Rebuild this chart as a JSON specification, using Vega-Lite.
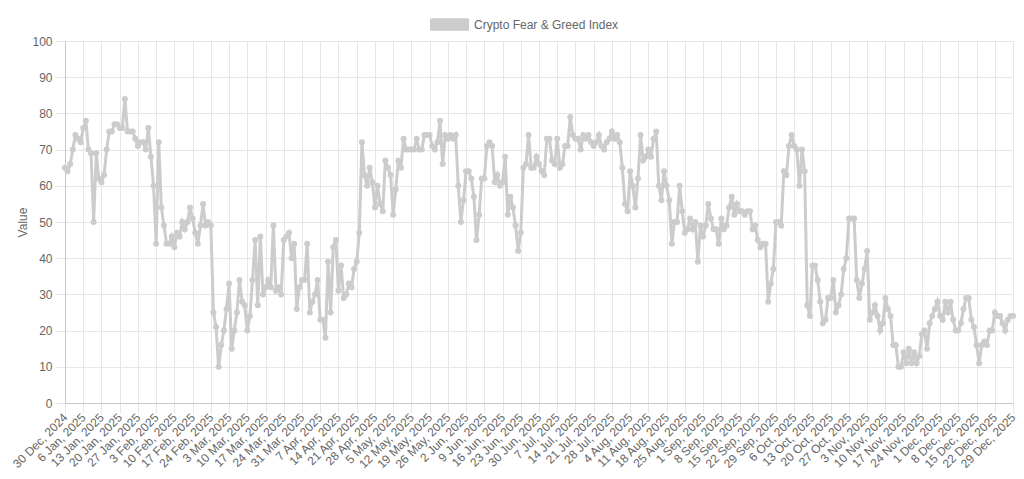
{
"$schema": "https://vega.github.io/schema/vega-lite/v6.json",
"width": 948,
"height": 362,
"autosize": {"type": "none"},
"padding": {"left": 65, "top": 41, "right": 11, "bottom": 76},
"background": "white",
"config": {"view": {"stroke": null}, "font": "Liberation Sans"},
"data": {"values": [
{"date":"2024-12-30","value":65},{"date":"2024-12-31","value":64},
{"date":"2025-01-01","value":66},{"date":"2025-01-02","value":70},{"date":"2025-01-03","value":74},{"date":"2025-01-04","value":73},{"date":"2025-01-05","value":72},{"date":"2025-01-06","value":76},{"date":"2025-01-07","value":78},{"date":"2025-01-08","value":70},{"date":"2025-01-09","value":69},{"date":"2025-01-10","value":50},{"date":"2025-01-11","value":69},{"date":"2025-01-12","value":62},{"date":"2025-01-13","value":61},{"date":"2025-01-14","value":63},{"date":"2025-01-15","value":70},{"date":"2025-01-16","value":75},{"date":"2025-01-17","value":75},{"date":"2025-01-18","value":77},{"date":"2025-01-19","value":77},{"date":"2025-01-20","value":76},{"date":"2025-01-21","value":76},{"date":"2025-01-22","value":84},{"date":"2025-01-23","value":75},{"date":"2025-01-24","value":75},{"date":"2025-01-25","value":75},{"date":"2025-01-26","value":73},{"date":"2025-01-27","value":71},{"date":"2025-01-28","value":72},{"date":"2025-01-29","value":72},{"date":"2025-01-30","value":70},{"date":"2025-01-31","value":76},
{"date":"2025-02-01","value":68},{"date":"2025-02-02","value":60},{"date":"2025-02-03","value":44},{"date":"2025-02-04","value":72},{"date":"2025-02-05","value":54},{"date":"2025-02-06","value":49},{"date":"2025-02-07","value":44},{"date":"2025-02-08","value":44},{"date":"2025-02-09","value":46},{"date":"2025-02-10","value":43},{"date":"2025-02-11","value":47},{"date":"2025-02-12","value":46},{"date":"2025-02-13","value":50},{"date":"2025-02-14","value":48},{"date":"2025-02-15","value":50},{"date":"2025-02-16","value":54},{"date":"2025-02-17","value":51},{"date":"2025-02-18","value":47},{"date":"2025-02-19","value":44},{"date":"2025-02-20","value":49},{"date":"2025-02-21","value":55},{"date":"2025-02-22","value":49},{"date":"2025-02-23","value":50},{"date":"2025-02-24","value":49},{"date":"2025-02-25","value":25},{"date":"2025-02-26","value":21},{"date":"2025-02-27","value":10},{"date":"2025-02-28","value":16},
{"date":"2025-03-01","value":20},{"date":"2025-03-02","value":26},{"date":"2025-03-03","value":33},{"date":"2025-03-04","value":15},{"date":"2025-03-05","value":20},{"date":"2025-03-06","value":25},{"date":"2025-03-07","value":34},{"date":"2025-03-08","value":28},{"date":"2025-03-09","value":27},{"date":"2025-03-10","value":20},{"date":"2025-03-11","value":24},{"date":"2025-03-12","value":34},{"date":"2025-03-13","value":45},{"date":"2025-03-14","value":27},{"date":"2025-03-15","value":46},{"date":"2025-03-16","value":30},{"date":"2025-03-17","value":32},{"date":"2025-03-18","value":34},{"date":"2025-03-19","value":32},{"date":"2025-03-20","value":49},{"date":"2025-03-21","value":31},{"date":"2025-03-22","value":32},{"date":"2025-03-23","value":30},{"date":"2025-03-24","value":45},{"date":"2025-03-25","value":46},{"date":"2025-03-26","value":47},{"date":"2025-03-27","value":40},{"date":"2025-03-28","value":44},{"date":"2025-03-29","value":26},{"date":"2025-03-30","value":32},{"date":"2025-03-31","value":34},
{"date":"2025-04-01","value":34},{"date":"2025-04-02","value":44},{"date":"2025-04-03","value":25},{"date":"2025-04-04","value":28},{"date":"2025-04-05","value":30},{"date":"2025-04-06","value":34},{"date":"2025-04-07","value":23},{"date":"2025-04-08","value":23},{"date":"2025-04-09","value":18},{"date":"2025-04-10","value":39},{"date":"2025-04-11","value":25},{"date":"2025-04-12","value":43},{"date":"2025-04-13","value":45},{"date":"2025-04-14","value":31},{"date":"2025-04-15","value":38},{"date":"2025-04-16","value":29},{"date":"2025-04-17","value":30},{"date":"2025-04-18","value":33},{"date":"2025-04-19","value":32},{"date":"2025-04-20","value":37},{"date":"2025-04-21","value":39},{"date":"2025-04-22","value":47},{"date":"2025-04-23","value":72},{"date":"2025-04-24","value":63},{"date":"2025-04-25","value":60},{"date":"2025-04-26","value":65},{"date":"2025-04-27","value":61},{"date":"2025-04-28","value":54},{"date":"2025-04-29","value":60},{"date":"2025-04-30","value":55},
{"date":"2025-05-01","value":53},{"date":"2025-05-02","value":67},{"date":"2025-05-03","value":65},{"date":"2025-05-04","value":63},{"date":"2025-05-05","value":52},{"date":"2025-05-06","value":59},{"date":"2025-05-07","value":67},{"date":"2025-05-08","value":65},{"date":"2025-05-09","value":73},{"date":"2025-05-10","value":70},{"date":"2025-05-11","value":70},{"date":"2025-05-12","value":70},{"date":"2025-05-13","value":70},{"date":"2025-05-14","value":73},{"date":"2025-05-15","value":70},{"date":"2025-05-16","value":70},{"date":"2025-05-17","value":74},{"date":"2025-05-18","value":74},{"date":"2025-05-19","value":74},{"date":"2025-05-20","value":71},{"date":"2025-05-21","value":70},{"date":"2025-05-22","value":72},{"date":"2025-05-23","value":78},{"date":"2025-05-24","value":66},{"date":"2025-05-25","value":74},{"date":"2025-05-26","value":73},{"date":"2025-05-27","value":74},{"date":"2025-05-28","value":73},{"date":"2025-05-29","value":74},{"date":"2025-05-30","value":60},{"date":"2025-05-31","value":50},
{"date":"2025-06-01","value":56},{"date":"2025-06-02","value":64},{"date":"2025-06-03","value":64},{"date":"2025-06-04","value":62},{"date":"2025-06-05","value":57},{"date":"2025-06-06","value":45},{"date":"2025-06-07","value":52},{"date":"2025-06-08","value":62},{"date":"2025-06-09","value":62},{"date":"2025-06-10","value":71},{"date":"2025-06-11","value":72},{"date":"2025-06-12","value":71},{"date":"2025-06-13","value":61},{"date":"2025-06-14","value":63},{"date":"2025-06-15","value":60},{"date":"2025-06-16","value":61},{"date":"2025-06-17","value":68},{"date":"2025-06-18","value":52},{"date":"2025-06-19","value":57},{"date":"2025-06-20","value":54},{"date":"2025-06-21","value":49},{"date":"2025-06-22","value":42},{"date":"2025-06-23","value":47},{"date":"2025-06-24","value":65},{"date":"2025-06-25","value":66},{"date":"2025-06-26","value":74},{"date":"2025-06-27","value":65},{"date":"2025-06-28","value":65},{"date":"2025-06-29","value":68},{"date":"2025-06-30","value":66},
{"date":"2025-07-01","value":64},{"date":"2025-07-02","value":63},{"date":"2025-07-03","value":73},{"date":"2025-07-04","value":73},{"date":"2025-07-05","value":67},{"date":"2025-07-06","value":66},{"date":"2025-07-07","value":73},{"date":"2025-07-08","value":65},{"date":"2025-07-09","value":66},{"date":"2025-07-10","value":71},{"date":"2025-07-11","value":71},{"date":"2025-07-12","value":79},{"date":"2025-07-13","value":74},{"date":"2025-07-14","value":73},{"date":"2025-07-15","value":73},{"date":"2025-07-16","value":70},{"date":"2025-07-17","value":74},{"date":"2025-07-18","value":73},{"date":"2025-07-19","value":74},{"date":"2025-07-20","value":72},{"date":"2025-07-21","value":71},{"date":"2025-07-22","value":72},{"date":"2025-07-23","value":74},{"date":"2025-07-24","value":71},{"date":"2025-07-25","value":70},{"date":"2025-07-26","value":72},{"date":"2025-07-27","value":73},{"date":"2025-07-28","value":75},{"date":"2025-07-29","value":73},{"date":"2025-07-30","value":74},{"date":"2025-07-31","value":72},
{"date":"2025-08-01","value":65},{"date":"2025-08-02","value":55},{"date":"2025-08-03","value":53},{"date":"2025-08-04","value":64},{"date":"2025-08-05","value":60},{"date":"2025-08-06","value":54},{"date":"2025-08-07","value":62},{"date":"2025-08-08","value":74},{"date":"2025-08-09","value":67},{"date":"2025-08-10","value":68},{"date":"2025-08-11","value":70},{"date":"2025-08-12","value":68},{"date":"2025-08-13","value":73},{"date":"2025-08-14","value":75},{"date":"2025-08-15","value":60},{"date":"2025-08-16","value":56},{"date":"2025-08-17","value":64},{"date":"2025-08-18","value":60},{"date":"2025-08-19","value":56},{"date":"2025-08-20","value":44},{"date":"2025-08-21","value":50},{"date":"2025-08-22","value":50},{"date":"2025-08-23","value":60},{"date":"2025-08-24","value":53},{"date":"2025-08-25","value":47},{"date":"2025-08-26","value":48},{"date":"2025-08-27","value":51},{"date":"2025-08-28","value":48},{"date":"2025-08-29","value":50},{"date":"2025-08-30","value":39},{"date":"2025-08-31","value":49},
{"date":"2025-09-01","value":46},{"date":"2025-09-02","value":49},{"date":"2025-09-03","value":55},{"date":"2025-09-04","value":51},{"date":"2025-09-05","value":48},{"date":"2025-09-06","value":48},{"date":"2025-09-07","value":44},{"date":"2025-09-08","value":51},{"date":"2025-09-09","value":48},{"date":"2025-09-10","value":49},{"date":"2025-09-11","value":54},{"date":"2025-09-12","value":57},{"date":"2025-09-13","value":52},{"date":"2025-09-14","value":55},{"date":"2025-09-15","value":53},{"date":"2025-09-16","value":53},{"date":"2025-09-17","value":52},{"date":"2025-09-18","value":53},{"date":"2025-09-19","value":53},{"date":"2025-09-20","value":48},{"date":"2025-09-21","value":49},{"date":"2025-09-22","value":45},{"date":"2025-09-23","value":43},{"date":"2025-09-24","value":44},{"date":"2025-09-25","value":44},{"date":"2025-09-26","value":28},{"date":"2025-09-27","value":33},{"date":"2025-09-28","value":37},{"date":"2025-09-29","value":50},{"date":"2025-09-30","value":50},
{"date":"2025-10-01","value":49},{"date":"2025-10-02","value":64},{"date":"2025-10-03","value":63},{"date":"2025-10-04","value":71},{"date":"2025-10-05","value":74},{"date":"2025-10-06","value":71},{"date":"2025-10-07","value":70},{"date":"2025-10-08","value":60},{"date":"2025-10-09","value":70},{"date":"2025-10-10","value":64},{"date":"2025-10-11","value":27},{"date":"2025-10-12","value":24},{"date":"2025-10-13","value":38},{"date":"2025-10-14","value":38},{"date":"2025-10-15","value":34},{"date":"2025-10-16","value":28},{"date":"2025-10-17","value":22},{"date":"2025-10-18","value":23},{"date":"2025-10-19","value":29},{"date":"2025-10-20","value":29},{"date":"2025-10-21","value":34},{"date":"2025-10-22","value":25},{"date":"2025-10-23","value":27},{"date":"2025-10-24","value":30},{"date":"2025-10-25","value":37},{"date":"2025-10-26","value":40},{"date":"2025-10-27","value":51},{"date":"2025-10-28","value":51},{"date":"2025-10-29","value":51},{"date":"2025-10-30","value":34},{"date":"2025-10-31","value":29},
{"date":"2025-11-01","value":33},{"date":"2025-11-02","value":37},{"date":"2025-11-03","value":42},{"date":"2025-11-04","value":23},{"date":"2025-11-05","value":25},{"date":"2025-11-06","value":27},{"date":"2025-11-07","value":24},{"date":"2025-11-08","value":20},{"date":"2025-11-09","value":22},{"date":"2025-11-10","value":29},{"date":"2025-11-11","value":26},{"date":"2025-11-12","value":24},{"date":"2025-11-13","value":16},{"date":"2025-11-14","value":16},{"date":"2025-11-15","value":10},{"date":"2025-11-16","value":10},{"date":"2025-11-17","value":14},{"date":"2025-11-18","value":11},{"date":"2025-11-19","value":15},{"date":"2025-11-20","value":11},{"date":"2025-11-21","value":14},{"date":"2025-11-22","value":11},{"date":"2025-11-23","value":13},{"date":"2025-11-24","value":19},{"date":"2025-11-25","value":20},{"date":"2025-11-26","value":15},{"date":"2025-11-27","value":22},{"date":"2025-11-28","value":24},{"date":"2025-11-29","value":26},{"date":"2025-11-30","value":28},
{"date":"2025-12-01","value":24},{"date":"2025-12-02","value":23},{"date":"2025-12-03","value":28},{"date":"2025-12-04","value":25},{"date":"2025-12-05","value":28},{"date":"2025-12-06","value":23},{"date":"2025-12-07","value":20},{"date":"2025-12-08","value":20},{"date":"2025-12-09","value":22},{"date":"2025-12-10","value":26},{"date":"2025-12-11","value":29},{"date":"2025-12-12","value":29},{"date":"2025-12-13","value":23},{"date":"2025-12-14","value":21},{"date":"2025-12-15","value":16},{"date":"2025-12-16","value":11},{"date":"2025-12-17","value":16},{"date":"2025-12-18","value":17},{"date":"2025-12-19","value":16},{"date":"2025-12-20","value":20},{"date":"2025-12-21","value":20},{"date":"2025-12-22","value":25},{"date":"2025-12-23","value":24},{"date":"2025-12-24","value":24},{"date":"2025-12-25","value":22},{"date":"2025-12-26","value":20},{"date":"2025-12-27","value":23},{"date":"2025-12-28","value":24},{"date":"2025-12-29","value":24}
]},
"mark": {"type": "line", "strokeWidth": 3, "point": {"filled": true, "size": 36, "opacity": 1}},
"encoding": {
"x": {"field": "date", "type": "temporal",
 "scale": {"type": "utc", "domain": [{"year":2024,"month":12,"date":30,"utc":true},{"year":2025,"month":12,"date":29,"utc":true}]},
 "axis": {"values": [
 {"year":2024,"month":12,"date":30,"utc":true},{"year":2025,"month":1,"date":6,"utc":true},{"year":2025,"month":1,"date":13,"utc":true},{"year":2025,"month":1,"date":20,"utc":true},{"year":2025,"month":1,"date":27,"utc":true},
 {"year":2025,"month":2,"date":3,"utc":true},{"year":2025,"month":2,"date":10,"utc":true},{"year":2025,"month":2,"date":17,"utc":true},{"year":2025,"month":2,"date":24,"utc":true},
 {"year":2025,"month":3,"date":3,"utc":true},{"year":2025,"month":3,"date":10,"utc":true},{"year":2025,"month":3,"date":17,"utc":true},{"year":2025,"month":3,"date":24,"utc":true},{"year":2025,"month":3,"date":31,"utc":true},
 {"year":2025,"month":4,"date":7,"utc":true},{"year":2025,"month":4,"date":14,"utc":true},{"year":2025,"month":4,"date":21,"utc":true},{"year":2025,"month":4,"date":28,"utc":true},
 {"year":2025,"month":5,"date":5,"utc":true},{"year":2025,"month":5,"date":12,"utc":true},{"year":2025,"month":5,"date":19,"utc":true},{"year":2025,"month":5,"date":26,"utc":true},
 {"year":2025,"month":6,"date":2,"utc":true},{"year":2025,"month":6,"date":9,"utc":true},{"year":2025,"month":6,"date":16,"utc":true},{"year":2025,"month":6,"date":23,"utc":true},{"year":2025,"month":6,"date":30,"utc":true},
 {"year":2025,"month":7,"date":7,"utc":true},{"year":2025,"month":7,"date":14,"utc":true},{"year":2025,"month":7,"date":21,"utc":true},{"year":2025,"month":7,"date":28,"utc":true},
 {"year":2025,"month":8,"date":4,"utc":true},{"year":2025,"month":8,"date":11,"utc":true},{"year":2025,"month":8,"date":18,"utc":true},{"year":2025,"month":8,"date":25,"utc":true},
 {"year":2025,"month":9,"date":1,"utc":true},{"year":2025,"month":9,"date":8,"utc":true},{"year":2025,"month":9,"date":15,"utc":true},{"year":2025,"month":9,"date":22,"utc":true},{"year":2025,"month":9,"date":29,"utc":true},
 {"year":2025,"month":10,"date":6,"utc":true},{"year":2025,"month":10,"date":13,"utc":true},{"year":2025,"month":10,"date":20,"utc":true},{"year":2025,"month":10,"date":27,"utc":true},
 {"year":2025,"month":11,"date":3,"utc":true},{"year":2025,"month":11,"date":10,"utc":true},{"year":2025,"month":11,"date":17,"utc":true},{"year":2025,"month":11,"date":24,"utc":true},
 {"year":2025,"month":12,"date":1,"utc":true},{"year":2025,"month":12,"date":8,"utc":true},{"year":2025,"month":12,"date":15,"utc":true},{"year":2025,"month":12,"date":22,"utc":true},{"year":2025,"month":12,"date":29,"utc":true}
 ],
 "labelExpr": "utcFormat(datum.value, '%-d %b, %Y')", "title": null,
 "labelAngle": -45, "labelAlign": "right", "labelBaseline": "middle", "labelPadding": 2,
 "labelFontSize": 12, "labelColor": "#666666", "labelOverlap": false, "labelBound": false, "labelFlush": false,
 "grid": true, "gridColor": "#e6e6e6", "tickColor": "#e6e6e6", "tickSize": 10, "domainColor": "#c8c8c8"}},
"y": {"field": "value", "type": "quantitative",
 "scale": {"domain": [0, 100]},
 "axis": {"values": [0,10,20,30,40,50,60,70,80,90,100], "title": "Value", "titleColor": "#666666", "titleFontSize": 12, "titleFontWeight": "normal", "titlePadding": 2,
 "labelFontSize": 12, "labelColor": "#666666", "labelPadding": 3,
 "grid": true, "gridColor": "#e6e6e6", "tickColor": "#e6e6e6", "tickSize": 10, "domainColor": "#c8c8c8"}},
"color": {"datum": "Crypto Fear & Greed Index", "type": "nominal", "scale": {"range": ["#cccccc"]},
 "legend": {"title": null, "orient": "none", "legendX": 365, "legendY": -36, "padding": 0,
 "symbolType": "M-1,-0.3H1V0.3H-1Z", "symbolSize": 1444, "symbolFillColor": "#cccccc", "symbolStrokeColor": "#c2c2c2", "symbolStrokeWidth": 1, "symbolOpacity": 1,
 "labelFontSize": 12, "labelColor": "#666666", "labelOffset": 5}}
}
}
